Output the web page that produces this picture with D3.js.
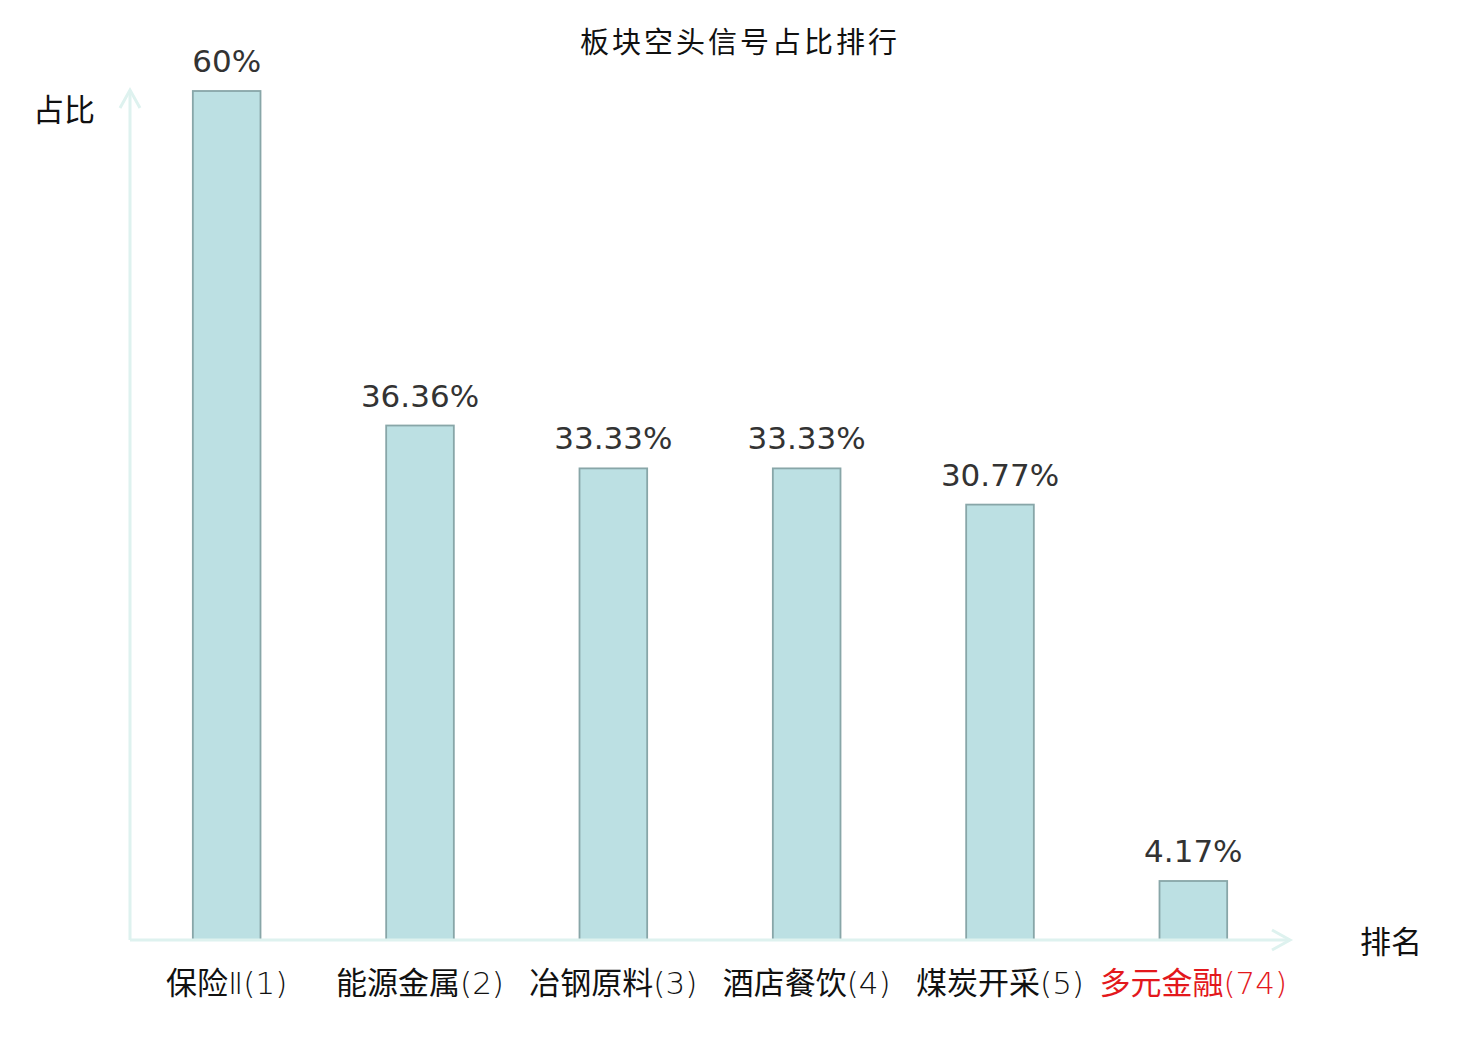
<!DOCTYPE html>
<html>
<head>
<meta charset="utf-8">
<script src="https://cdn.jsdelivr.net/npm/d3@7"></script>
<style>
  body { margin: 0; background: #fff; }
  svg { display: block; }
</style>
</head>
<body>
<svg id="chart" width="1480" height="1040"></svg>
<script>
// chart data
const categories = ['保险', '能源金属', '冶钢原料', '酒店餐饮', '煤炭开采', '多元金融']
const suffixes = ['Ⅱ(1)', '(2)', '(3)', '(4)', '(5)', '(74)']
const values = [60, 36.36, 33.33, 33.33, 30.77, 4.17]
const valueLabels = ['60%', '36.36%', '33.33%', '33.33%', '30.77%', '4.17%']
const highlight = [false, false, false, false, false, true]

const svg = d3.select('#chart')
const cjk = '"Noto Sans CJK SC", "Noto Sans", sans-serif'
const axisColor = '#def2ef'

const xScale = d3.scaleBand()
  .domain(categories)
  .range([130, 1290])
  .paddingInner(0.65)
  .paddingOuter(0.325)

const yScale = d3.scaleLinear()
  .domain([0, 60])
  .range([940, 91])

// title
svg.append('text')
  .attr('x', 740)
  .attr('y', 53)
  .attr('text-anchor', 'middle')
  .style('font-family', cjk)
  .style('font-size', '29px')
  .style('letter-spacing', '3px')
  .attr('fill', '#111')
  .text('板块空头信号占比排行')

// bars
svg.selectAll('rect.bar')
  .data(values)
  .enter()
  .append('rect')
  .attr('class', 'bar')
  .attr('x', (d, i) => xScale(categories[i]))
  .attr('width', xScale.bandwidth())
  .attr('y', d => yScale(d))
  .attr('height', d => yScale(0) - yScale(d))
  .attr('fill', '#bce0e3')
  .attr('stroke', '#88a6a8')
  .attr('stroke-width', 1.8)

// value labels
svg.selectAll('text.value')
  .data(values)
  .enter()
  .append('text')
  .attr('class', 'value')
  .attr('x', (d, i) => xScale(categories[i]) + xScale.bandwidth() / 2)
  .attr('y', d => yScale(d) - 19)
  .attr('text-anchor', 'middle')
  .style('font-family', '"DejaVu Sans", sans-serif')
  .style('font-size', '31px')
  .attr('fill', '#333')
  .text((d, i) => valueLabels[i])

// axes with arrows
const axisG = svg.append('g')
  .attr('fill', 'none')
  .attr('stroke', axisColor)
  .attr('stroke-width', 3)
axisG.append('line')
  .attr('x1', 130).attr('y1', yScale(0))
  .attr('x2', 130).attr('y2', 90)
axisG.append('path')
  .attr('d', 'M120,108 L130,90 L140,108')
axisG.append('line')
  .attr('x1', 130).attr('y1', yScale(0))
  .attr('x2', 1290).attr('y2', yScale(0))
axisG.append('path')
  .attr('d', 'M1272,930 L1290,940 L1272,950')

// category labels
const cats = svg.selectAll('text.cat')
  .data(categories)
  .enter()
  .append('text')
  .attr('class', 'cat')
  .attr('x', d => xScale(d) + xScale.bandwidth() / 2)
  .attr('y', 994)
  .attr('text-anchor', 'middle')
  .style('font-size', '31px')
  .attr('fill', (d, i) => highlight[i] ? '#e3181c' : '#111')
cats.append('tspan')
  .style('font-family', cjk)
  .text(d => d)
cats.append('tspan')
  .style('font-family', '"DejaVu Sans", sans-serif')
  .style('font-weight', 200)
  .text((d, i) => suffixes[i])

// axis titles
svg.append('text')
  .attr('x', 33)
  .attr('y', 121)
  .style('font-family', cjk)
  .style('font-size', '31px')
  .attr('fill', '#111')
  .text('占比')

svg.append('text')
  .attr('x', 1360)
  .attr('y', 953)
  .style('font-family', cjk)
  .style('font-size', '31px')
  .attr('fill', '#111')
  .text('排名')
</script>
</body>
</html>
